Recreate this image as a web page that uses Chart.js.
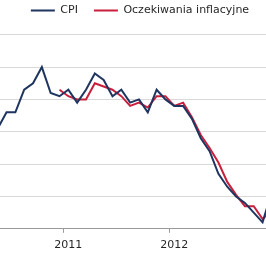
<!DOCTYPE html>
<html>
<head>
<meta charset="utf-8">
<script src="https://cdn.jsdelivr.net/npm/chart.js@4/dist/chart.umd.min.js"></script>
<style>
html,body{margin:0;padding:0;width:266px;height:266px;overflow:hidden;background:#fff;}
#c{position:absolute;left:-40px;top:0;}
</style>
</head>
<body>
<canvas id="c" width="360" height="266"></canvas>
<script>
const months = ['2010-12',
  '2011-01','2011-02','2011-03','2011-04','2011-05','2011-06','2011-07','2011-08','2011-09','2011-10','2011-11','2011-12',
  '2012-01','2012-02','2012-03','2012-04','2012-05','2012-06','2012-07','2012-08','2012-09','2012-10','2012-11','2012-12',
  '2013-01','2013-02','2013-03','2013-04','2013-05','2013-06','2013-07'];
const cpi = [3.1,
  3.6,3.6,4.3,4.5,5.0,4.2,4.1,4.3,3.9,4.3,4.8,4.6,
  4.1,4.3,3.9,4.0,3.6,4.3,4.0,3.8,3.8,3.4,2.8,2.4,
  1.7,1.3,1.0,0.8,0.5,0.2,1.1];
const expectations = [null,
  null,null,null,null,null,null,4.3,4.1,4.0,4.0,4.5,4.4,
  4.3,4.1,3.8,3.9,3.75,4.1,4.1,3.8,3.9,3.45,2.9,2.5,
  2.05,1.45,1.05,0.7,0.7,0.3,0.55];
const yearTickMonths = ['2011-08','2012-08'];
const yearTickLabels = ['2011','2012'];
const seriesNames = ['CPI','Oczekiwania inflacyjne'];

const FONT = {family:'DejaVu Sans', size:11};
new Chart(document.getElementById('c'), {
  type:'line',
  data:{
    labels: months,
    datasets:[
      {label: seriesNames[0], data: cpi, borderColor:'#1F3560', backgroundColor:'#1F3560', borderWidth:2, pointRadius:0, tension:0},
      {label: seriesNames[1], data: expectations, borderColor:'#C8203C', backgroundColor:'#C8203C', borderWidth:2, pointRadius:0, tension:0}
    ]
  },
  options:{
    responsive:false, animation:false, devicePixelRatio:1,
    layout:{padding:{top:-11, bottom:8, left:0, right:0}},
    plugins:{
      legend:{position:'top', labels:{font:FONT, color:'#262626', boxWidth:24, boxHeight:0, padding:16}},
      tooltip:{enabled:false}
    },
    scales:{
      x:{
        type:'category', offset:false,
        grid:{offset:true, drawOnChartArea:false, drawTicks:true, tickLength:4,
          tickColor: ctx => (yearTickMonths.indexOf(months[ctx.index]) >= 0 ? '#9a9a9a' : 'rgba(0,0,0,0)')},
        border:{display:true, color:'#9a9a9a', width:1},
        ticks:{autoSkip:false, maxRotation:0, minRotation:0, padding:6, font:FONT, color:'#262626',
          callback:(v,i) => { const j = yearTickMonths.indexOf(months[i]); return j >= 0 ? yearTickLabels[j] : ''; }}
      },
      y:{
        position:'left', min:0, max:6.27,
        ticks:{display:false, stepSize:1, includeBounds:false},
        grid:{color:'#d9d9d9', lineWidth:1, drawTicks:false},
        border:{display:false},
        afterFit: s => { s.width = 37.7; }
      },
      yR:{
        position:'right', min:0, max:6.27, display:true,
        ticks:{display:false}, grid:{display:false, drawTicks:false}, border:{display:false},
        afterFit: s => { s.width = 48.6; }
      }
    }
  }
});
</script>
</body>
</html>
